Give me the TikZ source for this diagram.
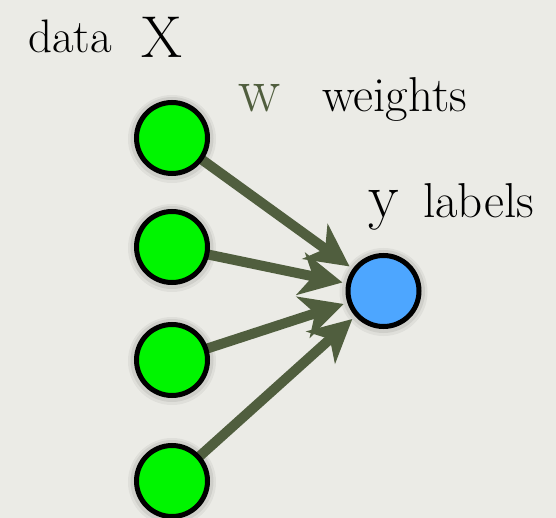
\documentclass[tikz,border=0pt]{standalone}
\usetikzlibrary{arrows.meta}
\definecolor{paper}{RGB}{235,235,230}
\definecolor{olive}{RGB}{80,94,62}
\definecolor{inputgreen}{RGB}{0,245,0}
\definecolor{outputblue}{RGB}{77,166,255}
\pgfdeclarelayer{paperlayer}
\pgfdeclarelayer{back}
\pgfsetlayers{paperlayer,back,main}

\begin{document}
\begin{tikzpicture}[x=1pt,y=-1pt,
  unit/.style={circle,draw=black,line width=5pt,minimum size=71pt,inner sep=0pt},
  inunit/.style={unit,fill=inputgreen},
  outunit/.style={unit,fill=outputblue},
  weight/.style={draw=olive,line width=10pt,
    -{Stealth[length=43pt,width=44pt,inset=13pt,line width=0pt]},
    shorten <=30pt,shorten >=4pt},
  word/.style={inner sep=0pt,anchor=base west,font=\rmfamily\fontsize{49}{58}\selectfont},
  sym/.style={inner sep=0pt,anchor=base west,font=\rmfamily\fontsize{63}{75}\selectfont},
]
\begin{pgfonlayer}{paperlayer}
  \fill[paper] (0,0) rectangle (556,518);
\end{pgfonlayer}
\useasboundingbox (0,0) rectangle (556,518);

% input layer and output unit
\node[inunit] (x1) at (172,138) {};
\node[inunit] (x2) at (172,247) {};
\node[inunit] (x3) at (172,360) {};
\node[inunit] (x4) at (172,481) {};
\node[outunit] (y) at (383.5,291) {};

% soft shadows and weighted connections behind the units
\begin{pgfonlayer}{back}
  \foreach \n in {x1,x2,x3,x4,y} {
    \fill[black,opacity=0.05] ([yshift=-1pt]\n.center) circle (44pt);
    \fill[black,opacity=0.07] ([yshift=-0.5pt]\n.center) circle (41.5pt);
  }
  \foreach \n in {x1,x2,x3,x4}
    \draw[weight] (\n.center) -- (y);
\end{pgfonlayer}

% labels
\node[word,font=\rmfamily\fontsize{47}{56}\selectfont] (datalbl) at (28,53) {data};
\node[sym,font=\rmfamily\fontsize{59}{70}\selectfont] (xlbl) at (141,58) {X};
\node[sym,text=olive] (wlbl) at (238,112) {w};
\node[word] (weightslbl) at (322,112) {weights};
\node[sym] (ylbl) at (368,218) {y};
\node[word] (labelslbl) at (423,218) {labels};
\end{tikzpicture}
\end{document}
